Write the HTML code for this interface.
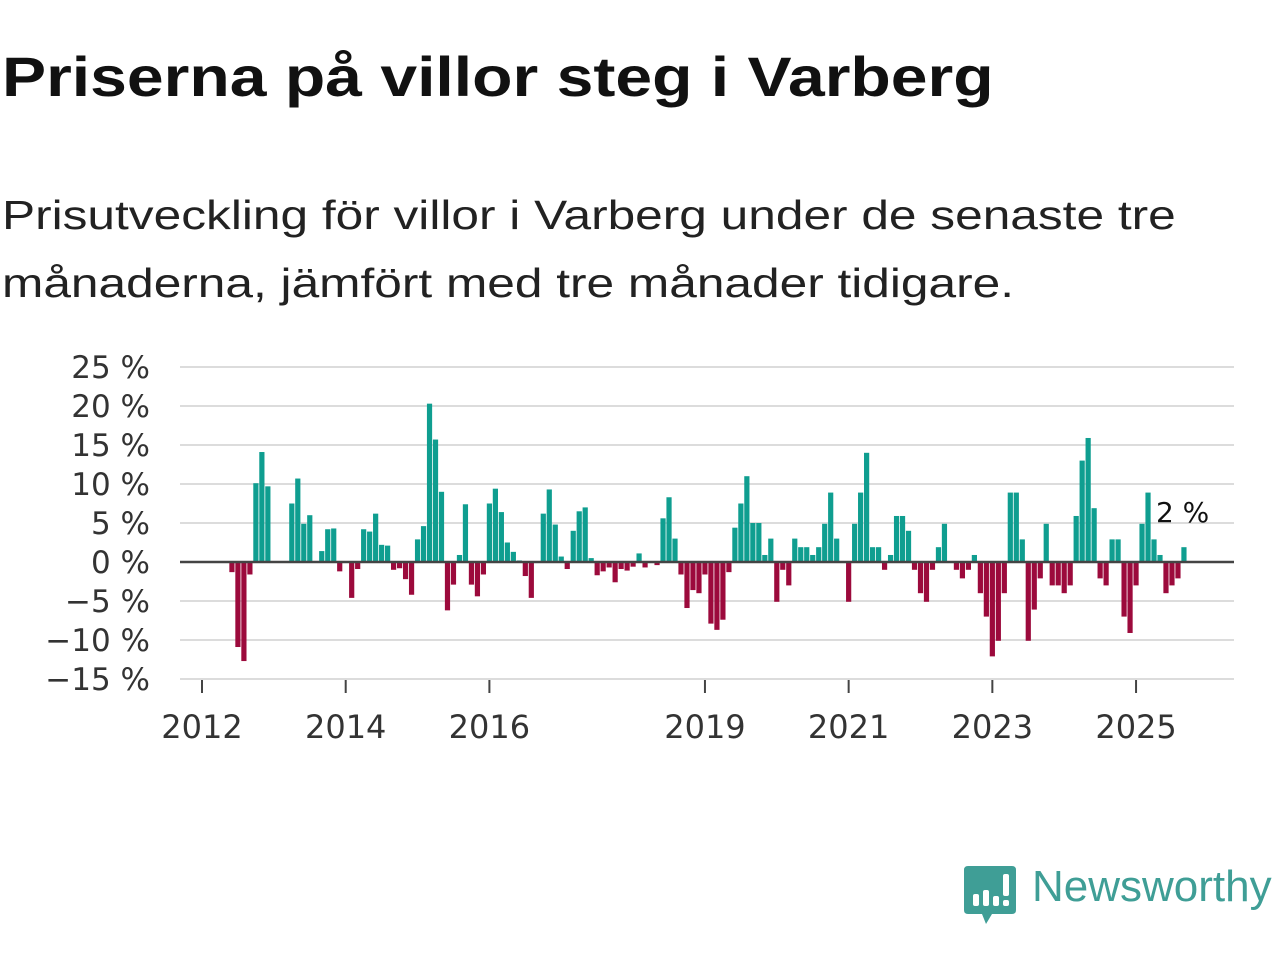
<!DOCTYPE html>
<html><head><meta charset="utf-8">
<style>
body{margin:0;background:#fff;width:1280px;height:960px;overflow:hidden;font-family:"Liberation Sans",sans-serif;}
#title{position:absolute;left:2px;top:44px;font-size:56px;font-weight:bold;color:#111;margin:0;transform:scaleX(1.18);transform-origin:0 0;white-space:nowrap}
#sub{position:absolute;left:2px;top:181px;font-size:41px;color:#222;line-height:68px;margin:0;transform:scaleX(1.21);transform-origin:0 0;white-space:nowrap}
</style></head>
<body>
<h1 id="title">Priserna på villor steg i Varberg</h1>
<p id="sub">Prisutveckling för villor i Varberg under de senaste tre<br>månaderna, jämfört med tre månader tidigare.</p>
<svg id="chart" width="1280" height="960" style="position:absolute;left:0;top:0"></svg>
<script>
const yTicks=[25,20,15,10,5,0,-5,-10,-15];
const yTickLabels=["25 %","20 %","15 %","10 %","5 %","0 %","−5 %","−10 %","−15 %"];
const xTickYears=[2012,2014,2016,2019,2021,2023,2025];
const startYear=2012, startMonth=4; // May 2012
const values=[-1.3,-10.9,-12.7,-1.6,10.1,14.1,9.7,0,0,0,7.5,10.7,4.9,6.0,0,1.4,4.2,4.3,-1.2,0,
-4.6,-0.9,4.2,3.9,6.2,2.2,2.1,-1.0,-0.8,-2.2,-4.2,2.9,4.6,20.3,15.7,9.0,-6.2,-2.9,0.9,7.4,
-2.9,-4.4,-1.6,7.5,9.4,6.4,2.5,1.3,0.2,-1.8,-4.6,0,
6.2,9.3,4.8,0.7,-0.9,4.0,6.5,7.0,0.5,-1.7,-1.2,-0.7,-2.6,-0.9,-1.1,-0.6,1.1,-0.7,0,-0.4,
5.6,8.3,3.0,-1.6,-5.9,-3.6,-4.0,-1.6,-7.9,-8.7,-7.4,-1.3,4.4,7.5,11.0,5.0,5.0,0.9,3.0,-5.1,
-1.0,-3.0,3.0,1.9,1.9,0.9,1.9,4.9,8.9,3.0,0,-5.1,4.9,8.9,14.0,1.9,1.9,
-1.0,0.9,5.9,5.9,4.0,-1.0,-4.0,-5.1,-1.0,1.9,4.9,0,-1.0,-2.1,-1.0,0.9,-4.0,-7.0,-12.1,-10.1,
-4.0,8.9,8.9,2.9,-10.1,-6.1,-2.1,4.9,-3.0,-3.0,-4.0,-3.0,5.9,13.0,15.9,6.9,-2.1,-3.0,2.9,2.9,
-7.0,-9.1,-3.0,4.9,8.9,2.9,0.9,-4.0,-3.0,-2.1,1.9];
const lastLabel="2 %";

const NS="http://www.w3.org/2000/svg";
const svg=document.getElementById('chart');
const X0=180,X1=1234;
const FONT='DejaVu Sans, sans-serif';
function yScale(v){return 562-v*7.8;}
function xScale(monthsSince2012){return 202+monthsSince2012*(71.85/12);}
function mk(tag,attrs,parent){const e=document.createElementNS(NS,tag);for(const k in attrs)e.setAttribute(k,attrs[k]);(parent||svg).appendChild(e);return e;}

yTicks.forEach((t,i)=>{
  if(t!==0){const g=mk('line',{x1:X0,x2:X1,y1:yScale(t),y2:yScale(t),stroke:'#dcdcdc','stroke-width':2});
  
  }
  const l=mk('text',{x:150,y:yScale(t)+11,'text-anchor':'end','font-size':31,fill:'#333','font-family':FONT});
  l.textContent=yTickLabels[i];
  
  
});
xTickYears.forEach(yr=>{
  const x=xScale((yr-2012)*12);
  const tk=mk('line',{x1:x,x2:x,y1:680,y2:693,stroke:'#444','stroke-width':2});
  
  
  const l=mk('text',{x:x,y:738,'text-anchor':'middle','font-size':32,fill:'#333','font-family':FONT});
  l.textContent=yr;
  
  
});
values.forEach((v,i)=>{
  if(v===0)return;
  const cx=xScale(startMonth+i+1);
  const y0=yScale(0),y1=yScale(v);
  const r=mk('rect',{x:cx-2.6,width:5.2,y:Math.min(y0,y1),height:Math.abs(y1-y0),fill:v>0?'#0f9e90':'#9c0a3c'});
  
  
});
const zl=mk('line',{x1:X0,x2:X1,y1:yScale(0),y2:yScale(0),stroke:'#444','stroke-width':2.5});


const li=values.length-1;
const lab=mk('text',{x:xScale(startMonth+li+1)-28,y:yScale(5.1),'font-size':28,fill:'#111','font-family':FONT});
lab.textContent=lastLabel;


</script>
<svg width="60" height="70" style="position:absolute;left:962px;top:864px">
<path d="M6 2 H50 Q54 2 54 6 V46 Q54 50 50 50 H30 L24 60 L20 50 H6 Q2 50 2 46 V6 Q2 2 6 2Z" fill="#3f9e96"/>
<rect x="11" y="30" width="6" height="12" rx="2" fill="#fff"/><rect x="21" y="26" width="6" height="16" rx="2" fill="#fff"/>
<rect x="31" y="32" width="6" height="10" rx="2" fill="#fff"/><rect x="41" y="10" width="6" height="22" rx="2" fill="#fff"/><rect x="41" y="36" width="6" height="6" rx="2" fill="#fff"/>
</svg>
<div style="position:absolute;left:1032px;top:862px;font-size:44px;color:#3f9e96;font-family:'Liberation Sans',sans-serif">Newsworthy</div>
</body></html>
